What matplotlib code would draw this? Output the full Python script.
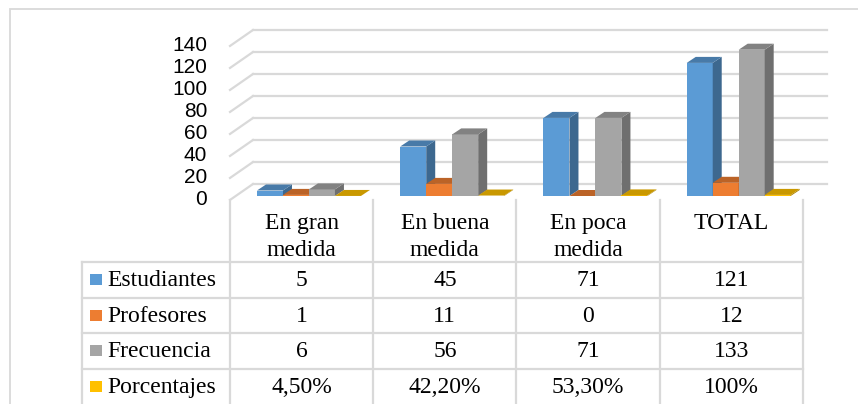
import numpy as np
import matplotlib.pyplot as plt
from matplotlib.patches import Polygon, Rectangle
from matplotlib.lines import Line2D

# datos
categorias = ['En gran\nmedida', 'En buena\nmedida', 'En poca\nmedida', 'TOTAL']
series = ['Estudiantes', 'Profesores', 'Frecuencia', 'Porcentajes']
estudiantes = [5, 45, 71, 121]
profesores = [1, 11, 0, 12]
frecuencia = [6, 56, 71, 133]
porcentajes = [0.045, 0.422, 0.533, 1.0]
porcentajes_txt = ['4,50%', '42,20%', '53,30%', '100%']
yticks = [0, 20, 40, 60, 80, 100, 120, 140]

colores = ['#5B9BD5', '#ED7D31', '#A5A5A5', '#FFC000']
valores = [estudiantes, profesores, frecuencia, porcentajes]
textos = [[str(v) for v in estudiantes], [str(v) for v in profesores],
          [str(v) for v in frecuencia], porcentajes_txt]


def oscurecer(c, f):
    r, g, b = [int(c[i:i + 2], 16) / 255 for i in (1, 3, 5)]
    return (r * f, g * f, b * f)


W, H = 858, 404
fig = plt.figure(figsize=(W / 100, H / 100), dpi=100)

# marco exterior
fig.patches.append(Rectangle((10 / W, -0.1), 1.0, (H - 9) / H + 0.1, transform=fig.transFigure,
                             fill=False, edgecolor='#D9D9D9', lw=1.3))

# grafico 3D (ejes en unidades de categoria / valor)
px_cat = 143.33
px_val = 1.1
ax = fig.add_axes([230 / W, (H - 200) / H, 573 / W, 191 / H])
ax.set_xlim(0, 4)
ax.set_ylim(-4 / px_val, 187 / px_val)
ax.axis('off')

fondo_dx = 23 / px_cat
fondo_dy = 12 / px_val
frente_dy = -3.6
fin_x = (827 - 230) / px_cat
gcol = '#D9D9D9'
for k in yticks:
    ax.add_line(Line2D([0, fondo_dx], [k + frente_dy, k + fondo_dy], color=gcol, lw=1.6, clip_on=False))
    ax.add_line(Line2D([fondo_dx, fin_x], [k + fondo_dy, k + fondo_dy], color=gcol, lw=1.6, clip_on=False))
    ax.text(-23 / px_cat, k + frente_dy, str(k), ha='right', va='center',
            fontsize=15, family='Liberation Sans', color='#000000')

ancho = 26 / px_cat
inicio = 27 / px_cat
bdx = 9 / px_cat
bdy = 6 / px_val
x = np.arange(4)
for s, vals in enumerate(valores):
    c = colores[s]
    xs = x + inicio + s * ancho
    z = 3 + s
    ax.bar(xs, vals, width=ancho, align='edge', color=c, zorder=z, clip_on=False, lw=0)
    for xi, h in zip(xs, vals):
        top = [(xi, h), (xi + ancho, h), (xi + ancho + bdx, h + bdy), (xi + bdx, h + bdy)]
        side = [(xi + ancho, 0), (xi + ancho + bdx, bdy), (xi + ancho + bdx, h + bdy), (xi + ancho, h)]
        ax.add_patch(Polygon(side, closed=True, facecolor=oscurecer(c, 0.67), lw=0, zorder=z, clip_on=False))
        ax.add_patch(Polygon(top, closed=True, facecolor=oscurecer(c, 0.79), lw=0, zorder=z, clip_on=False))

# tabla de datos
tx = fig.add_axes([82 / W, 0, 721 / W, 204 / H])
tx.set_xlim(-148 / px_cat, 4)
tx.set_ylim(204, 0)
tx.axis('off')
cab = 62
fila = 35.5
lw_t = 1.6
for i in range(5):
    tx.add_line(Line2D([i, i], [0, 204], color=gcol, lw=lw_t, clip_on=False))
tx.add_line(Line2D([-148 / px_cat] * 2, [cab, 204], color=gcol, lw=lw_t, clip_on=False))
for r in range(4):
    y = cab + r * fila
    tx.add_line(Line2D([-148 / px_cat, 4], [y, y], color=gcol, lw=lw_t, clip_on=False))

for i, cat in enumerate(categorias):
    tx.text(i + 0.5, 13, cat, ha='center', va='top', fontsize=17,
            family='Liberation Serif', linespacing=1.4)

for r, nombre in enumerate(series):
    yc = cab + (r + 0.5) * fila
    tx.add_patch(Rectangle((-140 / px_cat, yc - 5.5), 12 / px_cat, 11, facecolor=colores[r], lw=0))
    tx.text(-123 / px_cat, yc + 1, nombre, ha='left', va='center', fontsize=17, family='Liberation Serif')
    for i, t in enumerate(textos[r]):
        tx.text(i + 0.5, yc + 1, t, ha='center', va='center', fontsize=17, family='Liberation Serif')

fig.savefig('out.png', dpi=100)
